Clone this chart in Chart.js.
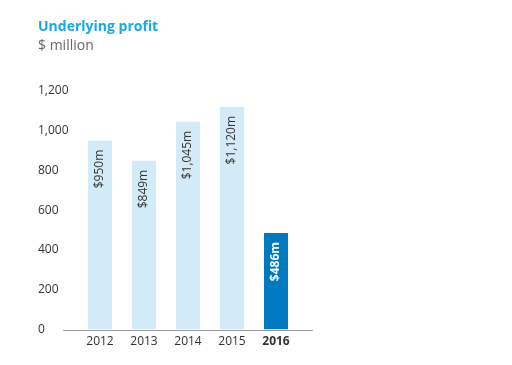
<!DOCTYPE html>
<html><head><meta charset="utf-8">
<script src="https://cdn.jsdelivr.net/npm/chart.js@4"></script>
<style>
html,body{margin:0;padding:0;background:#fff;}
#wrap{position:relative;width:512px;height:365px;}
#t1{position:absolute;left:38px;top:16px;font:bold 14px "Open Sans",sans-serif;color:#1aa9e0;}
#t2{position:absolute;left:38px;top:35px;font:14px "Open Sans",sans-serif;color:#666;}
canvas{position:absolute;left:0;top:0;}
</style></head><body>
<div id="wrap">
<canvas id="c" width="512" height="365"></canvas>
<div id="t1">Underlying profit</div>
<div id="t2">$ million</div>
</div>
<script>
const categories = ['2012','2013','2014','2015','2016'];
const values = [950, 849, 1045, 1120, 486];
const valueLabels = ['$950m','$849m','$1,045m','$1,120m','$486m'];
const yTicks = [0,200,400,600,800,1000,1200];
const lightColor = '#d3eaf8';
const darkColor = '#0079c1';
const FONT = '"Open Sans", sans-serif';

const barLabels = {
  id:'barLabels',
  afterDatasetsDraw(chart){
    const ctx = chart.ctx;
    const meta = chart.getDatasetMeta(0);
    meta.data.forEach((bar,i)=>{
      const last = i===values.length-1;
      ctx.save();
      ctx.translate(bar.x, bar.y + 9);
      ctx.rotate(-Math.PI/2);
      ctx.font = (last?'bold ':'') + '12px ' + FONT;
      ctx.fillStyle = last ? '#ffffff' : '#333333';
      ctx.textAlign = 'right';
      ctx.textBaseline = 'middle';
      ctx.fillText(valueLabels[i], 0, 0);
      ctx.restore();
    });
  }
};
const axisLine = {
  id:'axisLine',
  afterDatasetsDraw(chart){
    const ctx = chart.ctx;
    const y = chart.scales.y.getPixelForValue(0);
    ctx.save();
    ctx.strokeStyle = '#9a9a9a';
    ctx.lineWidth = 1;
    ctx.beginPath();
    ctx.moveTo(63, Math.round(y)+0.5);
    ctx.lineTo(313, Math.round(y)+0.5);
    ctx.stroke();
    ctx.restore();
  }
};

new Chart(document.getElementById('c'), {
  type:'bar',
  data:{
    labels: categories,
    datasets:[{
      data: values,
      backgroundColor: values.map((v,i)=> i===values.length-1 ? darkColor : lightColor),
      categoryPercentage: 24/44,
      barPercentage: 1,
      borderWidth: 0
    }]
  },
  options:{
    responsive:false,
    animation:false,
    devicePixelRatio:1,
    layout:{padding:{left:38, right:214, top:91, bottom:11}},
    plugins:{legend:{display:false}, tooltip:{enabled:false}, title:{display:false}},
    scales:{
      x:{
        offset:true,
        grid:{display:false, drawTicks:false},
        border:{display:false},
        ticks:{
          padding:5,
          color:'#333',
          font:(c)=>({family:FONT, size:12, weight: c.index===categories.length-1 ? 'bold' : 'normal'})
        }
      },
      y:{
        min:0, max:1200,
        afterBuildTicks:(s)=>{ s.ticks = yTicks.map(v=>({value:v})); },
        afterFit:(s)=>{ s.width = 40; },
        grid:{display:false, drawTicks:false},
        border:{display:false},
        ticks:{
          crossAlign:'far',
          color:'#333',
          font:{family:FONT, size:12},
          callback:(v)=> v.toLocaleString('en-US')
        }
      }
    }
  },
  plugins:[barLabels, axisLine]
});
</script>
</body></html>
